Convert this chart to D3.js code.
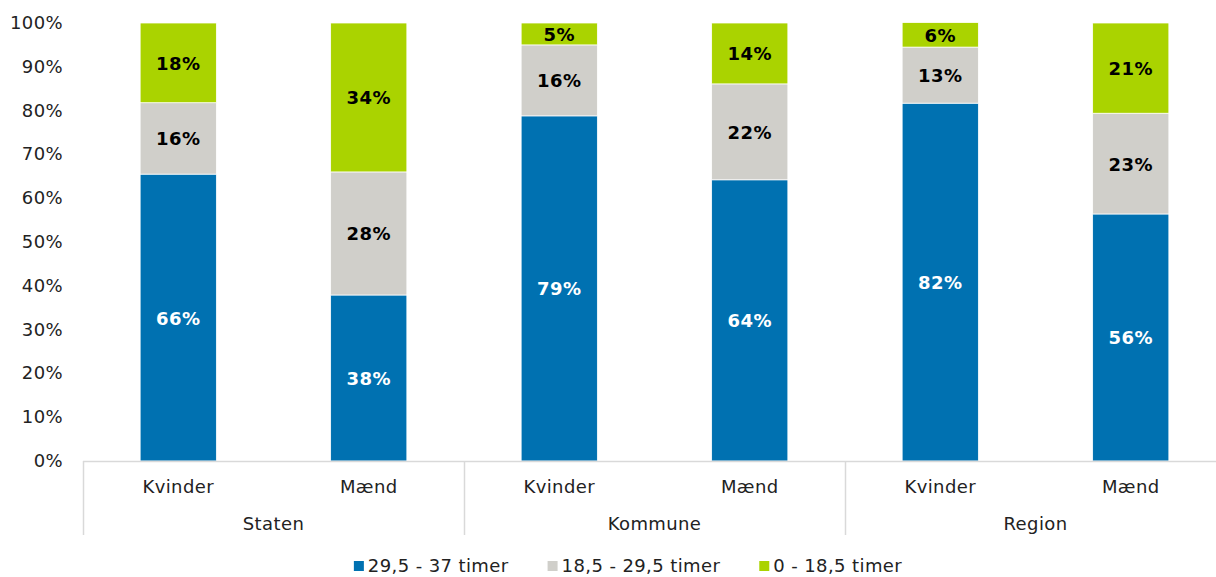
<!DOCTYPE html>
<html>
<head>
<meta charset="utf-8">
<script src="https://cdn.jsdelivr.net/npm/d3@7"></script>
<style>
  body { margin: 0; background: #fff; }
  text { font-family: "DejaVu Sans", Verdana, sans-serif; letter-spacing: 0.4px; }
</style>
</head>
<body>
<div id="chart"></div>
<script>
const groups = ["Staten", "Kommune", "Region"];
const genders = ["Kvinder", "Mænd"];
const seriesNames = ["29,5 - 37 timer", "18,5 - 29,5 timer", "0 - 18,5 timer"];
// values per bar, in order Staten K, Staten M, Kommune K, Kommune M, Region K, Region M
const fullTime = [65.5, 37.9, 78.8, 64.2, 81.7, 56.4];
const partTime = [16.3, 28.1, 16.2, 21.9, 12.8, 23.0];
const shortTime = [18.2, 34.0, 5.0, 13.9, 5.6, 20.6];
const yTicks = [0, 10, 20, 30, 40, 50, 60, 70, 80, 90, 100];

const colors = ["#0071b1", "#d0cfca", "#aad300"];
const labelColors = ["#ffffff", "#000000", "#000000"];

const width = 1216;
const height = 577;
const margin = { top: 23, right: -10, bottom: 116, left: 83 };

const svg = d3.select("#chart")
  .append("svg")
  .attr("width", width)
  .attr("height", height);

// build rows
const rows = [];
groups.forEach((g, gi) => {
  genders.forEach((s, si) => {
    const i = gi * 2 + si;
    rows.push({ group: g, gender: s, v0: fullTime[i], v1: partTime[i], v2: shortTime[i] });
  });
});

const stack = d3.stack().keys(["v0", "v1", "v2"]);
const series = stack(rows);

// Scales
const x0 = d3.scaleBand()
  .domain(groups)
  .range([margin.left, width - margin.right])
  .padding(0);

const x1 = d3.scaleBand()
  .domain(genders)
  .range([0, x0.bandwidth()])
  .paddingInner(0.6)
  .paddingOuter(0.3);

const y = d3.scaleLinear()
  .domain([0, 100])
  .range([height - margin.bottom, margin.top]);

const baseY = y(0);

// Y tick labels
svg.append("g")
  .selectAll("text")
  .data(yTicks)
  .join("text")
  .attr("x", 63)
  .attr("y", d => y(d) + 6)
  .attr("text-anchor", "end")
  .style("font-size", "18px")
  .style("fill", "#222")
  .text(d => d + "%");

// Bars
series.forEach((s, k) => {
  svg.append("g")
    .selectAll("rect")
    .data(s)
    .join("rect")
    .attr("x", d => x0(d.data.group) + x1(d.data.gender))
    .attr("y", d => y(d[1]))
    .attr("width", x1.bandwidth())
    .attr("height", d => y(d[0]) - y(d[1]))
    .attr("fill", colors[k])
    .attr("stroke", "#ffffff")
    .attr("stroke-width", 0.75);

  svg.append("g")
    .selectAll("text")
    .data(s)
    .join("text")
    .attr("x", d => x0(d.data.group) + x1(d.data.gender) + x1.bandwidth() / 2)
    .attr("y", d => (y(d[0]) + y(d[1])) / 2 + 7)
    .attr("text-anchor", "middle")
    .style("font-size", "18px")
    .style("font-weight", "bold")
    .style("fill", labelColors[k])
    .text(d => Math.round(d[1] - d[0]) + "%");
});

// X axis line and group separators
const axisColor = "#d9d9d9";
svg.append("line")
  .attr("x1", margin.left)
  .attr("x2", width)
  .attr("y1", baseY + 0.5)
  .attr("y2", baseY + 0.5)
  .attr("stroke", axisColor)
  .attr("stroke-width", 1.5);

svg.append("g")
  .selectAll("line")
  .data(groups)
  .join("line")
  .attr("x1", d => Math.round(x0(d)) + 0.5)
  .attr("x2", d => Math.round(x0(d)) + 0.5)
  .attr("y1", baseY)
  .attr("y2", 535)
  .attr("stroke", axisColor)
  .attr("stroke-width", 1.5);

// Category labels
svg.append("g")
  .selectAll("text")
  .data(rows)
  .join("text")
  .attr("x", d => x0(d.group) + x1(d.gender) + x1.bandwidth() / 2)
  .attr("y", 493)
  .attr("text-anchor", "middle")
  .style("font-size", "18px")
  .style("fill", "#222")
  .text(d => d.gender);

svg.append("g")
  .selectAll("text")
  .data(groups)
  .join("text")
  .attr("x", d => x0(d) + x0.bandwidth() / 2)
  .attr("y", 530)
  .attr("text-anchor", "middle")
  .style("font-size", "18px")
  .style("fill", "#222")
  .text(d => d);

// Legend
const legend = svg.append("g");
let lx = 0;
seriesNames.forEach((name, i) => {
  const item = legend.append("g").attr("transform", `translate(${lx},0)`);
  item.append("rect")
    .attr("x", 0)
    .attr("y", -11)
    .attr("width", 10)
    .attr("height", 10)
    .attr("fill", colors[i]);
  const t = item.append("text")
    .attr("x", 14)
    .attr("y", 0)
    .style("font-size", "18px")
    .style("fill", "#222")
    .text(name);
  lx += 14 + t.node().getComputedTextLength() + 39;
});
const legendW = lx - 39;
legend.attr("transform", `translate(${628 - legendW / 2},572)`);
</script>
</body>
</html>
